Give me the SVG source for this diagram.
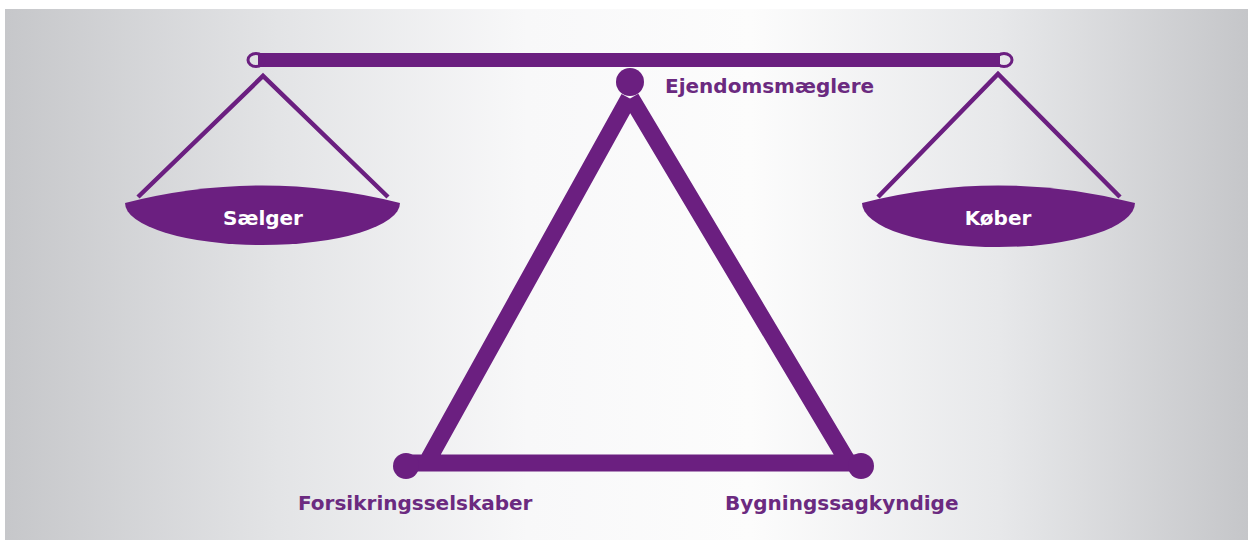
<svg xmlns="http://www.w3.org/2000/svg" width="1254" height="540" viewBox="0 0 1254 540">
<defs>
<linearGradient id="bg" x1="0" y1="0" x2="1" y2="0">
<stop offset="0" stop-color="#c6c7ca"/>
<stop offset="0.22" stop-color="#e3e4e6"/>
<stop offset="0.42" stop-color="#f8f8f9"/>
<stop offset="0.6" stop-color="#fcfcfc"/>
<stop offset="0.8" stop-color="#e7e8ea"/>
<stop offset="1" stop-color="#c5c6c9"/>
</linearGradient>
<style>
.p{fill:#6b1f80}
.s{stroke:#6b1f80;fill:none}
.lbl{font-family:"DejaVu Sans","Liberation Sans",sans-serif;font-weight:bold;font-size:20px;fill:#6b2a80}
.pan{font-family:"DejaVu Sans","Liberation Sans",sans-serif;font-weight:bold;font-size:20px;fill:#ffffff;text-anchor:middle}
</style>
</defs>
<rect x="0" y="0" width="1254" height="540" fill="#ffffff"/>
<rect x="5" y="9" width="1243" height="531" fill="url(#bg)"/>
<g id="connectors">
<rect class="p" x="258" y="53" width="742" height="14"/>
<ellipse class="s" cx="256" cy="60" rx="8" ry="6.5" stroke-width="3" fill="#ffffff"/>
<ellipse class="s" cx="1004" cy="60" rx="8" ry="6.5" stroke-width="3" fill="#ffffff"/>
<path class="s" d="M138,197 L263,76 L388,197" stroke-width="4.5"/>
<path class="s" d="M878,197 L998,74 L1120,197" stroke-width="4.5"/>
<path class="s" d="M629,98 L427,462 M631,98 L848,462 M406,463 L861,463" stroke-width="17"/>
</g>
<g id="node-ejendomsmaeglere">
<circle class="p" cx="630" cy="82" r="14"/>
<text class="lbl" x="665" y="93">Ejendomsmæglere</text>
</g>
<g id="node-saelger">
<path class="p" d="M125,203 Q262,168 400,203 A137.5,42 0 0 1 125,203 Z"/>
<text class="pan" x="263" y="225">Sælger</text>
</g>
<g id="node-koeber">
<path class="p" d="M862,203 Q998,168 1135,203 A136.5,44 0 0 1 862,203 Z"/>
<text class="pan" x="998" y="225">Køber</text>
</g>
<g id="node-forsikringsselskaber">
<circle class="p" cx="406" cy="466" r="13"/>
<text class="lbl" x="298" y="510">Forsikringsselskaber</text>
</g>
<g id="node-bygningssagkyndige">
<circle class="p" cx="861" cy="466" r="13"/>
<text class="lbl" x="725" y="510">Bygningssagkyndige</text>
</g>
</svg>
